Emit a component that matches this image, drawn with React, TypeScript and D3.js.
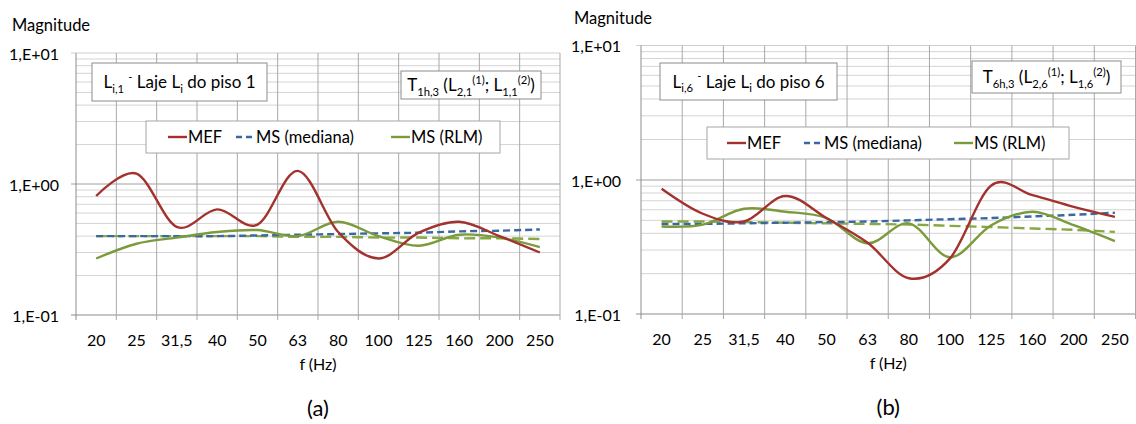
import React from "react";
import * as d3 from "d3";

const categories = ["20", "25", "31,5", "40", "50", "63", "80", "100", "125", "160", "200", "250"];

// Panel (a)
const mefA = [0.81, 1.2, 0.47, 0.64, 0.49, 1.26, 0.43, 0.27, 0.425, 0.515, 0.4, 0.3];
const medianaA = [0.4, 0.4, 0.4, 0.4, 0.405, 0.41, 0.415, 0.42, 0.425, 0.435, 0.44, 0.45];
const rlmA = [0.27, 0.35, 0.39, 0.43, 0.445, 0.4, 0.515, 0.4, 0.338, 0.41, 0.39, 0.33];
const rlmTrendA = [0.4, 0.4, 0.4, 0.4, 0.4, 0.395, 0.395, 0.39, 0.39, 0.385, 0.385, 0.38];

// Panel (b)
const mefB = [0.86, 0.56, 0.49, 0.76, 0.52, 0.34, 0.185, 0.26, 0.91, 0.77, 0.63, 0.53];
const medianaB = [0.47, 0.47, 0.475, 0.48, 0.485, 0.49, 0.5, 0.51, 0.52, 0.535, 0.55, 0.57];
const rlmB = [0.45, 0.465, 0.61, 0.58, 0.52, 0.337, 0.475, 0.265, 0.46, 0.58, 0.46, 0.35];
const rlmTrendB = [0.49, 0.49, 0.485, 0.48, 0.475, 0.47, 0.465, 0.455, 0.445, 0.435, 0.425, 0.41];

const yTickValues = [0.1, 1, 10];
const yTickLabels = ["1,E-01", "1,E+00", "1,E+01"];
const legendLabels = ["MEF", "MS (mediana)", "MS (RLM)"];

const FONT = "Lato, 'Open Sans', sans-serif";
const RED = "#a3322f";
const BLUE = "#3a68a3";
const GREEN = "#7b9a3c";
const GREEN_D = "#86a845";

type Part = { t: string; s?: "sub" | "sup" };

function Rich({ x, y, parts, size, anchor = "middle" }: { x: number; y: number; parts: Part[]; size: number; anchor?: string }) {
  let cur = 0;
  const nodes = parts.map((p, i) => {
    const target = p.s === "sub" ? size * 0.28 : p.s === "sup" ? -size * 0.42 : 0;
    const dy = target - cur;
    cur = target;
    return (
      <tspan key={i} dy={dy} fontSize={p.s ? size * 0.66 : size}>
        {p.t}
      </tspan>
    );
  });
  return (
    <text x={x} y={y} fontSize={size} textAnchor={anchor as any} fontFamily={FONT} fill="#000" style={{ whiteSpace: "pre" }}>
      {nodes}
    </text>
  );
}

type PanelProps = {
  x0: number; x1: number; yTop: number; yMid: number; yBot: number;
  magX: number; magY: number; labelGap: number;
  box1: [number, number, number, number]; box1Parts: Part[];
  box2: [number, number, number, number]; box2Parts: Part[];
  legend: [number, number, number, number]; legendItemX: number[];
  mef: number[]; mediana: number[]; rlm: number[]; rlmTrend: number[];
  caption: string;
};

function Panel(p: PanelProps) {
  const x = d3.scaleBand<string>().domain(categories).range([p.x0, p.x1]).paddingInner(0).paddingOuter(0);
  const y = d3.scaleLog().domain([0.1, 1, 10]).range([p.yBot, p.yMid, p.yTop]);
  const cx = (c: string) => (x(c) as number) + x.bandwidth() / 2;

  const line = (vals: number[]) =>
    d3.line<number>()
      .x((_, i) => cx(categories[i]))
      .y((v) => y(v))
      .curve(d3.curveCardinal.tension(0))(vals) as string;

  const minor: number[] = [];
  [0.1, 1].forEach((dec) => {
    for (let k = 2; k <= 9; k++) minor.push(dec * k);
  });
  const bounds = categories.map((c) => x(c) as number).concat([p.x1]);

  const [b1x, b1y, b1w, b1h] = p.box1;
  const [b2x, b2y, b2w, b2h] = p.box2;
  const [lx, ly, lw, lh] = p.legend;
  const lcy = ly + lh / 2;
  const sampleStyles = [
    { stroke: RED, dash: undefined as string | undefined },
    { stroke: BLUE, dash: "6,4" },
    { stroke: GREEN, dash: undefined as string | undefined },
  ];

  return (
    <g>
      <text x={p.magX} y={p.magY} fontSize={16.5} fontFamily={FONT} dominantBaseline="central">Magnitude</text>
      {/* minor horizontal gridlines */}
      {minor.map((v, i) => (
        <line key={"mn" + i} x1={p.x0} x2={p.x1} y1={y(v)} y2={y(v)} stroke="#d4d4d4" strokeWidth={1} />
      ))}
      {/* major horizontal gridlines */}
      {yTickValues.map((v, i) => (
        <line key={"mj" + i} x1={p.x0 - 5} x2={p.x1} y1={y(v)} y2={y(v)} stroke={i === 0 ? "#8c8c8c" : "#cfcfcf"} strokeWidth={i === 1 ? 2 : 1} />
      ))}
      {/* vertical gridlines + ticks */}
      {bounds.map((bx, i) => (
        <line key={"v" + i} x1={bx} x2={bx} y1={p.yTop} y2={p.yBot + 5} stroke={i === 0 ? "#8c8c8c" : "#a9a9a9"} strokeWidth={1} />
      ))}
      {/* y tick labels */}
      {yTickValues.map((v, i) => (
        <text key={"yl" + i} x={p.x0 - p.labelGap} y={y(v)} fontSize={16} fontFamily={FONT} textAnchor="end" dominantBaseline="central">
          {yTickLabels[i]}
        </text>
      ))}
      {/* x tick labels */}
      {categories.map((c, i) => (
        <text key={"xl" + i} x={cx(c)} y={p.yBot + 24} fontSize={16} fontFamily={FONT} textAnchor="middle" dominantBaseline="central">
          {c}
        </text>
      ))}
      <text x={(p.x0 + p.x1) / 2} y={p.yBot + 48} fontSize={16} fontFamily={FONT} textAnchor="middle" dominantBaseline="central">f (Hz)</text>
      <text x={(p.x0 + p.x1) / 2} y={p.yBot + 92} fontSize={22} fontFamily={FONT} textAnchor="middle" dominantBaseline="central">{p.caption}</text>

      {/* series */}
      <path d={line(p.rlmTrend)} fill="none" stroke={GREEN_D} strokeWidth={2.4} strokeDasharray="11,5" />
      <path d={line(p.mediana)} fill="none" stroke={BLUE} strokeWidth={2.4} strokeDasharray="7,4" />
      <path d={line(p.rlm)} fill="none" stroke={GREEN} strokeWidth={2.4} />
      <path d={line(p.mef)} fill="none" stroke={RED} strokeWidth={2.4} />

      {/* label boxes */}
      <rect x={b1x} y={b1y} width={b1w} height={b1h} fill="#fff" stroke="#8c8c8c" strokeWidth={1} />
      <Rich x={b1x + b1w / 2} y={b1y + b1h / 2 + 6} parts={p.box1Parts} size={17} />
      <rect x={b2x} y={b2y} width={b2w} height={b2h} fill="#fff" stroke="#8c8c8c" strokeWidth={1} />
      <Rich x={b2x + b2w / 2} y={b2y + b2h / 2 + 6} parts={p.box2Parts} size={17} />

      {/* legend */}
      <rect x={lx} y={ly} width={lw} height={lh} fill="#fff" stroke="#a6a6a6" strokeWidth={1} />
      {legendLabels.map((lab, i) => (
        <g key={"lg" + i}>
          <line x1={lx + p.legendItemX[i]} x2={lx + p.legendItemX[i] + 19} y1={lcy} y2={lcy} stroke={sampleStyles[i].stroke} strokeWidth={2.4} strokeDasharray={sampleStyles[i].dash} />
          <text x={lx + p.legendItemX[i] + 20} y={lcy} fontSize={16.5} fontFamily={FONT} dominantBaseline="central">{lab}</text>
        </g>
      ))}
    </g>
  );
}

const box1A: Part[] = [{ t: "L" }, { t: "i,1", s: "sub" }, { t: " " }, { t: "-", s: "sup" }, { t: " Laje L" }, { t: "i", s: "sub" }, { t: " do piso 1" }];
const box2A: Part[] = [{ t: "T" }, { t: "1h,3", s: "sub" }, { t: " (L" }, { t: "2,1", s: "sub" }, { t: "(1)", s: "sup" }, { t: "; L" }, { t: "1,1", s: "sub" }, { t: "(2)", s: "sup" }, { t: ")" }];
const box1B: Part[] = [{ t: "L" }, { t: "i,6", s: "sub" }, { t: " " }, { t: "-", s: "sup" }, { t: " Laje L" }, { t: "i", s: "sub" }, { t: " do piso 6" }];
const box2B: Part[] = [{ t: "T" }, { t: "6h,3", s: "sub" }, { t: " (L" }, { t: "2,6", s: "sub" }, { t: "(1)", s: "sup" }, { t: "; L" }, { t: "1,6", s: "sub" }, { t: "(2)", s: "sup" }, { t: ")" }];

export default function App() {
  return (
    <svg width={1136} height={424} style={{ position: "absolute", left: 0, top: 0, background: "#fff" }}>
      <rect x={0} y={0} width={1136} height={424} fill="#fff" />
      <Panel
        x0={76} x1={560} yTop={53} yMid={184} yBot={315}
        magX={12} magY={25} labelGap={17}
        box1={[92, 63, 175, 38]} box1Parts={box1A}
        box2={[401, 71, 140, 28]} box2Parts={box2A}
        legend={[146, 121, 354, 32]} legendItemX={[22, 90, 245]}
        mef={mefA} mediana={medianaA} rlm={rlmA} rlmTrend={rlmTrendA}
        caption="(a)"
      />
      <Panel
        x0={641} x1={1135.5} yTop={45.5} yMid={180} yBot={314}
        magX={574} magY={18} labelGap={20}
        box1={[660, 63, 177, 37]} box1Parts={box1B}
        box2={[972, 61, 149, 32]} box2Parts={box2B}
        legend={[707, 127, 362, 32]} legendItemX={[20, 97, 247]}
        mef={mefB} mediana={medianaB} rlm={rlmB} rlmTrend={rlmTrendB}
        caption="(b)"
      />
    </svg>
  );
}
